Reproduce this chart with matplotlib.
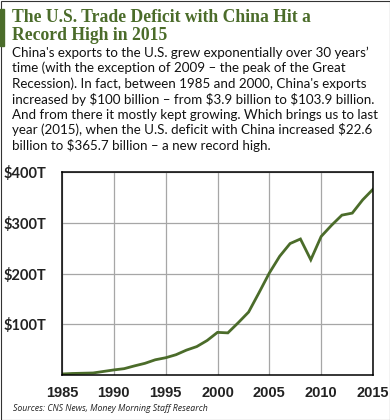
import numpy as np
import matplotlib
matplotlib.use("Agg")
import matplotlib.pyplot as plt
from matplotlib.patches import Rectangle

# US trade deficit with China, $ billions
years = list(range(1985, 2016))
deficit = [2, 3, 3.5, 4, 7, 10, 12.5, 18, 23, 30, 34, 40, 49, 56, 68, 84, 83,
           103, 124, 162, 201, 234, 259, 268, 227, 273, 295, 315, 319, 345, 366]

xticks = [1985, 1990, 1995, 2000, 2005, 2010, 2015]
yticks = [100, 200, 300, 400]
ylabels = ["$100T", "$200T", "$300T", "$400T"]

title_lines = ["The U.S. Trade Deficit with China Hit a", "Record High in 2015"]
body_lines = [
    "China's exports to the U.S. grew exponentially over 30 years\u2019",
    "time (with the exception of 2009 \u2013 the peak of the Great",
    "Recession). In fact, between 1985 and 2000, China's exports",
    "increased by $100 billion \u2013 from $3.9 billion to $103.9 billion.",
    "And from there it mostly kept growing. Which brings us to last",
    "year (2015), when the U.S. deficit with China increased $22.6",
    "billion to $365.7 billion \u2013 a new record high.",
]
source = "Sources: CNS News, Money Morning Staff Research"

green = "#4b6c2a"
W, H = 390, 420

fig = plt.figure(figsize=(W / 100, H / 100), dpi=100)

def fx(px):
    return px / W

def fy(py):
    return 1 - py / H

# border + green accent
fig.add_artist(Rectangle((fx(0.5), fy(419.5)), fx(389), 419 / H, fill=False,
                         edgecolor="#333333", lw=0.8, transform=fig.transFigure))
fig.add_artist(Rectangle((0, fy(46)), fx(4), 37 / H, color=green,
                         transform=fig.transFigure))

for i, t in enumerate(title_lines):
    fig.text(fx(12), fy(22 + i * 18), t, fontsize=12.7, fontweight="bold",
             family="Liberation Serif", color=green, va="baseline")

for i, t in enumerate(body_lines):
    fig.text(fx(12), fy(57 + i * 15.5), t, fontsize=9.6, family="Lato",
             color="#111111", va="baseline")

fig.text(fx(13), fy(411), source, fontsize=6.3, family="Open Sans",
         style="italic", color="#222222", va="baseline")

ax = fig.add_axes([fx(62), fy(375), fx(373) - fx(62), (375 - 172) / H])
ax.plot(years, deficit, color=green, lw=2.0, solid_joinstyle="miter")
ax.set_xlim(1985, 2015)
ax.set_ylim(0, 400)
ax.set_xticks(xticks)
ax.set_xticklabels([str(x) for x in xticks], fontsize=10.5, fontweight="bold",
                   family="Liberation Sans", color="#222222")
ax.set_yticks(yticks)
ax.set_yticklabels(ylabels, fontsize=10.5, fontweight="bold", family="Lato",
                   color="#222222")
ax.tick_params(length=0, pad=8)
ax.tick_params(axis="y", pad=11)
ax.grid(True, color="#a6a6a6", lw=0.9)
ax.set_axisbelow(True)
for s in ax.spines.values():
    s.set_color("black")
    s.set_linewidth(1.1)

fig.savefig("out.png", dpi=100)
